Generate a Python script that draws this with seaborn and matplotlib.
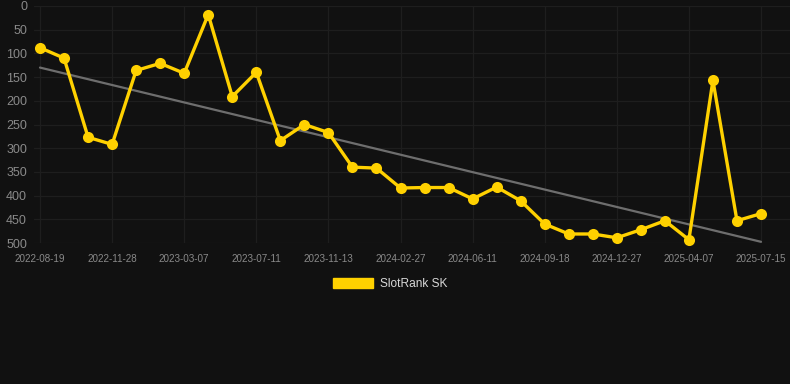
import numpy as np
import pandas as pd
import matplotlib
matplotlib.use("Agg")
import matplotlib.pyplot as plt
from matplotlib.patches import Patch
import seaborn as sns

# Category labels (only every third point carries a visible date label)
date_labels = ["2022-08-19", "", "", "2022-11-28", "", "", "2023-03-07", "", "",
               "2023-07-11", "", "", "2023-11-13", "", "", "2024-02-27", "", "",
               "2024-06-11", "", "", "2024-09-18", "", "", "2024-12-27", "", "",
               "2025-04-07", "", "", "2025-07-15"]
rank_values = [88, 110, 277, 292, 136, 121, 142, 18, 191, 140, 284, 250, 267,
               340, 342, 384, 383, 383, 407, 382, 411, 460, 481, 481, 489, 472,
               453, 493, 157, 453, 438]
series_name = "SlotRank SK"
y_ticks = [0, 50, 100, 150, 200, 250, 300, 350, 400, 450, 500]

BG = "#111111"
GOLD = "#FFD100"
GRID = "#1e1e1e"
TXT = "#8a8a8a"

sns.set_theme(style="dark")
plt.rcParams["font.family"] = ["Liberation Sans", "DejaVu Sans"]

df = pd.DataFrame({"pos": np.arange(len(rank_values)), "rank": rank_values,
                   "label": date_labels})

fig = plt.figure(figsize=(7.9, 3.84), dpi=100, facecolor=BG)
ax = fig.add_axes([34 / 790, (384 - 243) / 384, 1 - 34 / 790, (243 - 6) / 384])
ax.set_facecolor(BG)

# trend line (least squares)
coef = np.polyfit(df["pos"], df["rank"], 1)
df["trend"] = np.polyval(coef, df["pos"])
sns.lineplot(data=df, x="pos", y="trend", ax=ax, color="#6e6e6e", linewidth=1.6,
             zorder=2)

sns.lineplot(data=df, x="pos", y="rank", ax=ax, color=GOLD, linewidth=2.4,
             marker="o", markersize=8, markeredgewidth=0, zorder=3)
for l in ax.lines:
    l.set_clip_on(False)

ax.set_ylim(500, 0)
ax.set_xlim(-0.25, len(rank_values) - 1 + 29 / 24.03)
ax.set_yticks(y_ticks)
ax.set_yticklabels([str(v) for v in y_ticks], fontsize=9, color=TXT)
tick_pos = [i for i, s in enumerate(date_labels) if s]
ax.set_xticks(tick_pos)
ax.set_xticklabels([date_labels[i] for i in tick_pos], fontsize=7.1, color=TXT)
ax.tick_params(axis="x", length=4, color=GRID, pad=4, width=1)
ax.tick_params(axis="y", length=0, pad=5)
ax.grid(True, color=GRID, linewidth=0.9)
for s in ax.spines.values():
    s.set_visible(False)
ax.set_xlabel("")
ax.set_ylabel("")
if ax.get_legend():
    ax.get_legend().remove()

handle = Patch(facecolor=GOLD, edgecolor=GOLD, label=series_name)
fig.legend(handles=[handle], loc="center", bbox_to_anchor=(390 / 790, 1 - 284 / 384),
           frameon=False, fontsize=8.6, labelcolor="#d8d8d8",
           handlelength=3.4, handleheight=0.85, handletextpad=0.55)

fig.savefig("out.png", dpi=100, facecolor=BG)
